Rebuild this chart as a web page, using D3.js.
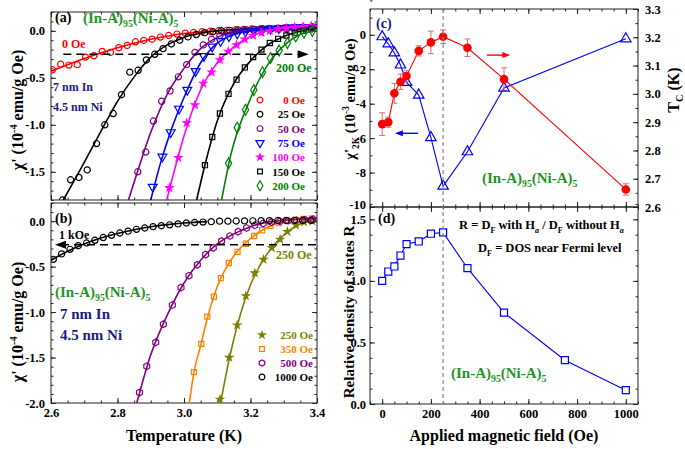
<!DOCTYPE html>
<html><head><meta charset="utf-8">
<script src="https://cdn.jsdelivr.net/npm/d3@7"></script>
<style>body{margin:0;background:#fff}svg text{font-family:"Liberation Serif","Times New Roman",serif;font-weight:bold}</style>
</head><body><svg id="c" width="685" height="449" font-family="Liberation Serif, serif" font-weight="bold"></svg>
<script>
// ---------------- DATA ----------------
// Panel (a): chi' vs T, [T (K), chi' (1e-4 emu/g Oe)]
const a0 = [[2.604,-0.415],[2.629,-0.355],[2.654,-0.365],[2.679,-0.36],[2.704,-0.28],[2.729,-0.266],[2.754,-0.22],[2.779,-0.23],[2.804,-0.18],[2.829,-0.156],[2.854,-0.117],[2.879,-0.103],[2.904,-0.089],[2.929,-0.067],[2.954,-0.05],[2.979,-0.035],[3.004,-0.025],[3.029,-0.018],[3.054,-0.01],[3.079,-0.005],[3.104,0.0],[3.129,0.005],[3.154,0.01],[3.179,0.015],[3.204,0.02],[3.229,0.02],[3.254,0.025],[3.279,0.025],[3.304,0.03],[3.329,0.03],[3.354,0.035],[3.379,0.035],[3.397,0.04]];
const a25 = [[2.635,-1.80],[2.659,-1.585],[2.684,-1.56],[2.709,-1.48],[2.737,-1.20],[2.762,-1.00],[2.787,-0.88],[2.812,-0.68],[2.837,-0.44],[2.862,-0.42],[2.887,-0.31],[2.912,-0.25],[2.937,-0.19],[2.962,-0.14],[2.987,-0.10],[3.012,-0.065],[3.037,-0.04],[3.062,-0.02],[3.087,-0.01],[3.112,0.0],[3.137,0.005],[3.162,0.01],[3.187,0.01],[3.212,0.015],[3.237,0.02],[3.262,0.02],[3.287,0.025],[3.312,0.03],[3.337,0.03],[3.362,0.035],[3.387,0.04]];
const a50 = [[2.861,-1.50],[2.885,-1.29],[2.908,-0.96],[2.933,-0.75],[2.958,-0.64],[2.983,-0.49],[3.008,-0.36],[3.033,-0.23],[3.058,-0.15],[3.083,-0.09],[3.108,-0.05],[3.133,-0.02],[3.158,0.0],[3.183,0.01],[3.208,0.015],[3.233,0.02],[3.258,0.02],[3.283,0.025],[3.308,0.03],[3.333,0.03],[3.358,0.035],[3.383,0.035]];
const a75 = [[2.906,-1.66],[2.935,-1.34],[2.96,-1.08],[2.985,-0.83],[3.01,-0.63],[3.035,-0.43],[3.06,-0.27],[3.085,-0.17],[3.11,-0.11],[3.135,-0.06],[3.16,-0.03],[3.185,-0.01],[3.21,0.0],[3.235,0.01],[3.26,0.02],[3.285,0.025],[3.31,0.03],[3.335,0.035],[3.36,0.04],[3.385,0.04]];
const a100 = [[2.956,-1.67],[2.983,-1.35],[3.008,-0.98],[3.033,-0.79],[3.058,-0.56],[3.083,-0.44],[3.108,-0.31],[3.133,-0.22],[3.158,-0.15],[3.183,-0.09],[3.208,-0.05],[3.233,-0.02],[3.258,0.0],[3.283,0.02],[3.308,0.03],[3.333,0.04],[3.358,0.045],[3.383,0.05]];
const a150 = [[3.063,-1.43],[3.085,-1.13],[3.108,-0.88],[3.134,-0.67],[3.158,-0.52],[3.183,-0.39],[3.208,-0.28],[3.233,-0.20],[3.258,-0.13],[3.283,-0.085],[3.308,-0.05],[3.333,-0.02],[3.358,0.0],[3.383,0.02]];
const a200 = [[3.134,-1.41],[3.16,-1.03],[3.185,-0.84],[3.21,-0.63],[3.236,-0.44],[3.26,-0.29],[3.286,-0.21],[3.311,-0.13],[3.336,-0.06],[3.361,-0.02],[3.386,0.0]];
// fitted curves (a)
const fitA0 = [[2.6,-0.43],[2.7,-0.295],[2.8,-0.18],[2.9,-0.09],[3.0,-0.028],[3.1,0.0],[3.2,0.018],[3.3,0.03],[3.4,0.04]];
const fitA25 = [[2.637,-1.8],[2.7,-1.40],[2.75,-1.07],[2.8,-0.75],[2.85,-0.49],[2.9,-0.28],[2.95,-0.15],[3.0,-0.07],[3.1,0.0],[3.2,0.02],[3.4,0.04]];
const fitA50 = [[2.833,-1.8],[2.86,-1.50],[2.9,-1.08],[2.95,-0.67],[3.0,-0.40],[3.05,-0.19],[3.1,-0.07],[3.15,-0.01],[3.2,0.015],[3.3,0.03],[3.4,0.04]];
const fitA75 = [[2.90,-1.8],[2.93,-1.40],[2.96,-1.07],[3.0,-0.71],[3.05,-0.34],[3.1,-0.13],[3.15,-0.04],[3.2,0.0],[3.3,0.03],[3.4,0.045]];
const fitA100 = [[2.948,-1.8],[2.98,-1.37],[3.0,-1.12],[3.05,-0.63],[3.1,-0.34],[3.15,-0.17],[3.2,-0.06],[3.25,0.0],[3.3,0.03],[3.4,0.05]];
const fitA150 = [[3.038,-1.8],[3.06,-1.47],[3.1,-0.96],[3.15,-0.56],[3.2,-0.32],[3.25,-0.155],[3.3,-0.06],[3.35,-0.005],[3.4,0.03]];
const fitA200 = [[3.113,-1.8],[3.14,-1.33],[3.2,-0.72],[3.25,-0.37],[3.3,-0.16],[3.35,-0.04],[3.4,0.0]];

// Panel (b)
const b250 = [[3.108,-1.96],[3.136,-1.50],[3.16,-1.144],[3.186,-0.822],[3.213,-0.57],[3.239,-0.422],[3.264,-0.293],[3.289,-0.2],[3.311,-0.115],[3.337,-0.044],[3.361,-0.01],[3.386,0.0]];
const b350 = [[3.03,-1.66],[3.052,-1.35],[3.07,-1.05],[3.09,-0.83],[3.111,-0.626],[3.135,-0.46],[3.161,-0.337],[3.186,-0.248],[3.211,-0.163],[3.235,-0.10],[3.26,-0.052],[3.285,-0.022],[3.31,0.004],[3.335,0.015],[3.36,0.025],[3.385,0.03]];
const b500 = [[2.866,-1.885],[2.888,-1.596],[2.915,-1.333],[2.938,-1.133],[2.965,-0.922],[2.991,-0.73],[3.015,-0.60],[3.04,-0.48],[3.065,-0.367],[3.088,-0.293],[3.113,-0.219],[3.138,-0.163],[3.163,-0.115],[3.188,-0.075],[3.213,-0.045],[3.238,-0.025],[3.263,-0.01],[3.288,0.0],[3.313,0.005],[3.338,0.01],[3.363,0.015],[3.388,0.02]];
const b1000 = [[2.607,-0.42],[2.632,-0.36],[2.657,-0.31],[2.682,-0.27],[2.707,-0.24],[2.732,-0.21],[2.757,-0.18],[2.782,-0.155],[2.807,-0.13],[2.832,-0.11],[2.857,-0.09],[2.882,-0.075],[2.907,-0.06],[2.932,-0.05],[2.957,-0.04],[2.982,-0.03],[3.007,-0.02],[3.032,-0.015],[3.057,-0.01],[3.082,-0.005],[3.107,0.0],[3.132,0.0],[3.157,0.002],[3.182,0.003],[3.207,0.004],[3.232,0.005],[3.257,0.006],[3.282,0.007],[3.307,0.008],[3.332,0.009],[3.357,0.01],[3.382,0.01]];
const fitB250 = [[3.11,-2.0],[3.14,-1.45],[3.17,-1.02],[3.2,-0.70],[3.25,-0.36],[3.3,-0.15],[3.35,-0.03],[3.4,0.01]];
const fitB350 = [[3.016,-2.0],[3.03,-1.66],[3.05,-1.37],[3.07,-1.07],[3.1,-0.72],[3.15,-0.38],[3.2,-0.19],[3.25,-0.07],[3.3,0.0],[3.35,0.025],[3.4,0.035]];
const fitB500 = [[2.858,-2.0],[2.9,-1.47],[2.95,-1.03],[3.0,-0.68],[3.05,-0.43],[3.1,-0.25],[3.15,-0.14],[3.2,-0.06],[3.25,-0.01],[3.3,0.01],[3.4,0.03]];
const fitB1000 = [[2.6,-0.43],[2.65,-0.33],[2.7,-0.25],[2.75,-0.185],[2.8,-0.135],[2.85,-0.095],[2.9,-0.062],[2.95,-0.038],[3.0,-0.02],[3.07,-0.005]];

// Panel (c)
const fieldsC = [0,25,50,75,100,150,200,250,350,500,1000];
const chi2K = [-0.11,-0.52,-1.05,-1.75,-2.76,-3.5,-5.97,-8.79,-6.79,-3.09,-0.23];
const tcVals = [2.893,2.90,3.002,3.043,3.063,3.152,3.182,3.202,3.163,3.052,2.662];
const tcErr = [0.04,0.018,0.035,0.027,0.02,0.018,0.04,0.024,0.031,0.04,0.02];
// Panel (d)
const fieldsD = [0,25,50,75,100,150,200,250,350,500,750,1000];
const relR = [1.0,1.076,1.117,1.206,1.299,1.32,1.383,1.394,1.103,0.742,0.356,0.112];

// tick values
const ticksT = [2.6,2.8,3.0,3.2,3.4];
const ticksA = [0.0,-0.5,-1.0,-1.5];
const ticksB = [0.0,-0.5,-1.0,-1.5,-2.0];
const ticksH = [0,200,400,600,800,1000];
const ticksCl = [0,-2,-4,-6,-8,-10];
const ticksCr = [2.6,2.7,2.8,2.9,3.0,3.1,3.2,3.3];
const ticksD = [0.0,0.5,1.0,1.5];

// ---------------- LAYOUT ----------------
const svg = d3.select('#c');
const PA={x0:51,x1:317,y0:12,y1:200}, PB={x0:51,x1:317,y0:203,y1:403};
const PC={x0:370,x1:638,y0:9,y1:207}, PD={x0:370,x1:638,y0:207,y1:404};
const xT = d3.scaleLinear([2.6,3.4],[PA.x0,PA.x1]);
const yA = d3.scaleLinear([-1.8,0.2],[PA.y1,PA.y0]);
const yB = d3.scaleLinear([-2.0,0.2],[PB.y1,PB.y0]);
const xH = d3.scaleLinear([-50,1050],[PC.x0,PC.x1]);
const yC = d3.scaleLinear([-10,1.5],[PC.y1,PC.y0]);
const yCr = d3.scaleLinear([2.6,3.3],[PC.y1,PC.y0]);
const yD = d3.scaleLinear([0,1.6],[PD.y1,PD.y0]);

const FONT = 'Liberation Serif, Times New Roman, serif';
const f1 = v => v.toFixed(1), f0 = v => String(v);
const defs = svg.append('defs');
function clip(id,p){defs.append('clipPath').attr('id',id).append('rect').attr('x',p.x0).attr('y',p.y0).attr('width',p.x1-p.x0).attr('height',p.y1-p.y0);}
clip('ca',PA); clip('cb',PB); clip('cc',PC); clip('cd',PD);

function axis(gen, scale, tx, ty, major, minor, fmt, pad){
  const g = svg.append('g').attr('transform',`translate(${tx},${ty})`);
  g.call(gen(scale).tickValues(major).tickSizeInner(-5).tickSizeOuter(0).tickPadding(pad||0).tickFormat(fmt||(()=> '')));
  g.select('.domain').remove();
  g.attr('font-family',FONT).attr('font-size',12.5).attr('font-weight','bold');
  g.selectAll('line').attr('stroke','#222');
  if(minor){
    const m = svg.append('g').attr('transform',`translate(${tx},${ty})`);
    m.call(gen(scale).tickValues(minor).tickSizeInner(-2.5).tickSizeOuter(0).tickFormat(()=> ''));
    m.select('.domain').remove(); m.selectAll('line').attr('stroke','#222');
  }
  return g;
}
const rng=(a,b,s)=>d3.range(Math.round(a/s),Math.round(b/s)+1).map(i=>+(i*s).toFixed(4));

// Panel a axes
axis(d3.axisBottom,xT,0,PA.y1,ticksT,rng(2.6,3.4,0.05));
axis(d3.axisTop,xT,0,PA.y0,ticksT,rng(2.6,3.4,0.05));
axis(d3.axisLeft,yA,PA.x0,0,ticksA,rng(-1.8,0.2,0.1),f1,6);
axis(d3.axisRight,yA,PA.x1,0,ticksA,rng(-1.8,0.2,0.1));
// Panel b axes
axis(d3.axisBottom,xT,0,PB.y1,ticksT,rng(2.6,3.4,0.05),f1,5);
axis(d3.axisTop,xT,0,PB.y0,ticksT,rng(2.6,3.4,0.05));
axis(d3.axisLeft,yB,PB.x0,0,ticksB,rng(-2.0,0.2,0.1),f1,6);
axis(d3.axisRight,yB,PB.x1,0,ticksB,rng(-2.0,0.2,0.1));
// Panel c axes
axis(d3.axisBottom,xH,0,PC.y1,ticksH,rng(-50,1050,50));
axis(d3.axisTop,xH,0,PC.y0,ticksH,rng(-50,1050,50));
axis(d3.axisLeft,yC,PC.x0,0,ticksCl,rng(-10,1.5,1),f0,4).selectAll('text').attr('dy',(d)=>d===-10?'0.1em':'0.32em');
axis(d3.axisRight,yCr,PC.x1,0,ticksCr,rng(2.6,3.3,0.05),f1,7);
// Panel d axes
axis(d3.axisBottom,xH,0,PD.y1,ticksH,rng(-50,1050,50),f0,5);
axis(d3.axisTop,xH,0,PD.y0,ticksH,rng(-50,1050,50));
axis(d3.axisLeft,yD,PD.x0,0,ticksD,rng(0,1.6,0.125),f1,4);
axis(d3.axisRight,yD,PD.x1,0,ticksD,rng(0,1.6,0.125));

[PA,PB,PC,PD].forEach(p=>svg.append('rect').attr('x',p.x0).attr('y',p.y0).attr('width',p.x1-p.x0).attr('height',p.y1-p.y0).attr('fill','none').attr('stroke','#222').attr('stroke-width',1));

// symbols
const hexagon = {draw(ctx,size){const r=Math.sqrt(size/2.598);for(let i=0;i<6;i++){const a=Math.PI/3*i+Math.PI/6;const x=r*Math.cos(a),y=r*Math.sin(a);i?ctx.lineTo(x,y):ctx.moveTo(x,y);}ctx.closePath();}};
const SYM = {circle:[d3.symbolCircle,30,0],square:[d3.symbolSquare,26,0],diamond:[d3.symbolDiamond,34,0],star:[d3.symbolStar,15,0],tri:[d3.symbolTriangle,34,0],tridown:[d3.symbolTriangle,34,180],hex:[hexagon,30,0]};
function marks(g, pts, sx, sy, s, color, filled, sizeMul){
  const [t,sz,rot]=SYM[s];
  g.selectAll(null).data(pts).join('path')
   .attr('d',d3.symbol(t,sz*(sizeMul||1)))
   .attr('transform',d=>`translate(${sx(d[0])},${sy(d[1])}) rotate(${rot})`)
   .attr('fill',filled?color:'none').attr('stroke',color).attr('stroke-width',1.2);
}
function fitLine(g, pts, sx, sy, color, w){
  g.append('path').datum(pts).attr('d',d3.line(d=>sx(d[0]),d=>sy(d[1])).curve(d3.curveMonotoneX))
   .attr('fill','none').attr('stroke',color).attr('stroke-width',w||1.6);
}

// ----- Panel (a)
const seriesA = [
 {name:'0 Oe',pts:a0,fit:fitA0,color:'#ff0000',s:'circle',f:false},
 {name:'25 Oe',pts:a25,fit:fitA25,color:'#000000',s:'circle',f:false},
 {name:'50 Oe',pts:a50,fit:fitA50,color:'#800080',s:'circle',f:false},
 {name:'75 Oe',pts:a75,fit:fitA75,color:'#0000ff',s:'tridown',f:false},
 {name:'100 Oe',pts:a100,fit:fitA100,color:'#ff00ff',s:'star',f:true},
 {name:'150 Oe',pts:a150,fit:fitA150,color:'#000000',s:'square',f:false},
 {name:'200 Oe',pts:a200,fit:fitA200,color:'#008000',s:'diamond',f:false}];
const gA = svg.append('g').attr('clip-path','url(#ca)');
seriesA.forEach(s=>{fitLine(gA,s.fit,xT,yA,s.color); marks(gA,s.pts,xT,yA,s.s,s.color,s.f);});
// dashed arrow (a)
gA.append('line').attr('x1',xT(2.637)).attr('x2',xT(3.355)).attr('y1',yA(-0.25)).attr('y2',yA(-0.25)).attr('stroke','#000').attr('stroke-width',1.6).attr('stroke-dasharray','8,5');
{const x=xT(3.375),y=yA(-0.25);svg.append('path').attr('d',`M${x},${y}L${x-11},${y-4}L${x-11},${y+4}Z`).attr('fill','#000');}
// legend (a)
const legA = svg.append('g');
seriesA.forEach((s,i)=>{
  const y = 100 + i*14.3;
  marks(legA,[[0,0]],()=>260,()=>y,s.s,s.color,s.f,0.85);
  legA.append('text').attr('x',305).attr('y',y+4).attr('text-anchor','end').attr('font-size',11).attr('font-family',FONT).attr('font-weight','bold').attr('fill',s.color).text(s.name);
});

// ----- Panel (b)
const seriesB = [
 {name:'250 Oe',pts:b250,fit:fitB250,color:'#808000',s:'star',f:true},
 {name:'350 Oe',pts:b350,fit:fitB350,color:'#ff8000',s:'square',f:false},
 {name:'500 Oe',pts:b500,fit:fitB500,color:'#800080',s:'hex',f:false},
 {name:'1000 Oe',pts:b1000,fit:fitB1000,color:'#000000',s:'circle',f:false}];
const gB = svg.append('g').attr('clip-path','url(#cb)');
seriesB.forEach(s=>{fitLine(gB,s.fit,xT,yB,s.color); marks(gB,s.pts,xT,yB,s.s,s.color,s.f);});
gB.append('line').attr('x1',xT(2.63)).attr('x2',xT(3.4)).attr('y1',yB(-0.26)).attr('y2',yB(-0.26)).attr('stroke','#000').attr('stroke-width',1.6).attr('stroke-dasharray','8,5');
{const x=xT(2.612),y=yB(-0.26);svg.append('path').attr('d',`M${x},${y}L${x+11},${y-4}L${x+11},${y+4}Z`).attr('fill','#000');}
const legB = svg.append('g');
seriesB.forEach((s,i)=>{
  const y = 335 + i*14;
  marks(legB,[[0,0]],()=>262,()=>y,s.s,s.color,s.f,0.85);
  legB.append('text').attr('x',313).attr('y',y+4).attr('text-anchor','end').attr('font-size',11).attr('font-family',FONT).attr('font-weight','bold').attr('fill',s.color).text(s.name);
});

// ----- Panel (c)
const gC = svg.append('g').attr('clip-path','url(#cc)');
const blueC = fieldsC.map((h,i)=>[h,chi2K[i]]);
const redC = fieldsC.map((h,i)=>[h,tcVals[i],tcErr[i]]);
gC.append('path').datum(blueC).attr('d',d3.line(d=>xH(d[0]),d=>yC(d[1]))).attr('fill','none').attr('stroke','#0000ff').attr('stroke-width',1.1);
gC.append('path').datum(redC).attr('d',d3.line(d=>xH(d[0]),d=>yCr(d[1]))).attr('fill','none').attr('stroke','#ff0000').attr('stroke-width',1.1);
const eb = gC.selectAll(null).data(redC).join('g').attr('stroke','#e06a6a').attr('stroke-width',1);
eb.append('line').attr('x1',d=>xH(d[0])).attr('x2',d=>xH(d[0])).attr('y1',d=>yCr(d[1]-d[2])).attr('y2',d=>yCr(d[1]+d[2]));
eb.append('line').attr('x1',d=>xH(d[0])-3).attr('x2',d=>xH(d[0])+3).attr('y1',d=>yCr(d[1]-d[2])).attr('y2',d=>yCr(d[1]-d[2]));
eb.append('line').attr('x1',d=>xH(d[0])-3).attr('x2',d=>xH(d[0])+3).attr('y1',d=>yCr(d[1]+d[2])).attr('y2',d=>yCr(d[1]+d[2]));
marks(gC,blueC,xH,yC,'tri','#0000ff',false,1.4);
gC.selectAll(null).data(redC).join('circle').attr('cx',d=>xH(d[0])).attr('cy',d=>yCr(d[1])).attr('r',4.3).attr('fill','#ff0000');
// arrows (c)
{const y=yCr(3.137),x1=xH(430),x2=xH(526);
 svg.append('line').attr('x1',x1).attr('x2',x2-7).attr('y1',y).attr('y2',y).attr('stroke','#ff0000').attr('stroke-width',1.4);
 svg.append('path').attr('d',`M${x2},${y}L${x2-8},${y-3}L${x2-8},${y+3}Z`).attr('fill','#ff0000');}
{const y=yC(-5.72),x1=xH(148),x2=xH(52);
 svg.append('line').attr('x1',x1).attr('x2',x2+7).attr('y1',y).attr('y2',y).attr('stroke','#0000ff').attr('stroke-width',1.4);
 svg.append('path').attr('d',`M${x2},${y}L${x2+8},${y-3}L${x2+8},${y+3}Z`).attr('fill','#0000ff');}

// ----- Panel (d)
const gD = svg.append('g').attr('clip-path','url(#cd)');
const dPts = fieldsD.map((h,i)=>[h,relR[i]]);
gD.append('path').datum(dPts).attr('d',d3.line(d=>xH(d[0]),d=>yD(d[1]))).attr('fill','none').attr('stroke','#0000ff').attr('stroke-width',1.1);
marks(gD,dPts,xH,yD,'square','#0000ff',false,1.9);
gD.selectAll('path').filter((d,i)=>i>0).attr('fill','#fff');

// dashed vertical at 250 Oe
svg.append('line').attr('x1',xH(250)).attr('x2',xH(250)).attr('y1',PC.y0).attr('y2',PD.y1).attr('stroke','#888').attr('stroke-width',1.2).attr('stroke-dasharray','4,3');

// ---------------- TEXT ----------------
function txt(x,y,parts,opt){
  opt=opt||{};
  const t = svg.append('text').attr('x',x).attr('y',y).attr('font-size',opt.size||15).attr('fill',opt.color||'#000')
    .attr('font-family',FONT).attr('font-weight','bold');
  if(opt.anchor) t.attr('text-anchor',opt.anchor);
  if(opt.rot) t.attr('transform',`rotate(${opt.rot},${x},${y})`);
  const fs = opt.size||15; let shift=0;
  parts.forEach(p=>{
    if(typeof p==='string'){ t.append('tspan').attr('dy',-shift).text(p); shift=0; }
    else { const d = p.sup? -fs*0.38 : fs*0.28; t.append('tspan').attr('dy',d-shift).attr('font-size',fs*0.65).attr('font-style',p.it?'italic':null).text(p.t); shift=d; }
  });
  return t;
}
const alloy = ['(In-A)',{t:'95'},'(Ni-A)',{t:'5'}];
const GREEN='#1f951f', NAVY='#1c1c86';
txt(55,22,['(a)'],{size:14});
txt(83,23,alloy,{color:GREEN});
txt(62,48,['0 Oe'],{size:12,color:'#ff0000'});
txt(276,72,['200 Oe'],{size:12,color:'#008000'});
txt(53,91,['7 nm In'],{size:12,color:NAVY});
txt(53,111,['4.5 nm Ni'],{size:12,color:NAVY});

txt(55,223,['(b)'],{size:14});
txt(59,239,['1 kOe'],{size:12});
txt(276,259,['250 Oe'],{size:12,color:'#808000'});
txt(55,297,alloy,{color:GREEN});
txt(60,319,['7 nm In'],{size:15,color:NAVY});
txt(60,340,['4.5 nm Ni'],{size:15,color:NAVY});

txt(376,28,['(c)'],{size:14,color:NAVY});
txt(482,183,alloy,{color:GREEN});
txt(378,223,['(d)'],{size:14});
txt(459,229,['R = D',{t:'F'},' with H',{t:'a',it:true},' / D',{t:'F'},' without H',{t:'a',it:true}],{size:12.5});
txt(478,252,['D',{t:'F'},' = DOS near Fermi level'],{size:12.5});
txt(451,378,alloy,{color:GREEN});

// axis titles
txt(184,441,['Temperature (K)'],{size:16,anchor:'middle'});
txt(504,441,['Applied magnetic field (Oe)'],{size:16,anchor:'middle'});
txt(23,110,["χ' (10",{t:'-4',sup:true},' emu/g Oe)'],{size:16,anchor:'middle',rot:-90});
txt(23,322,["χ' (10",{t:'-4',sup:true},' emu/g Oe)'],{size:16,anchor:'middle',rot:-90});
txt(355,99,["χ'",{t:'2K'},' (10',{t:'-3',sup:true},' emu/g Oe)'],{size:14.5,anchor:'middle',rot:-90});
txt(354,312,['Relative density of states R'],{size:15,anchor:'middle',rot:-90});
txt(679,90,['T',{t:'C'},' (K)'],{size:16,anchor:'middle',rot:-90});
</script></body></html>
